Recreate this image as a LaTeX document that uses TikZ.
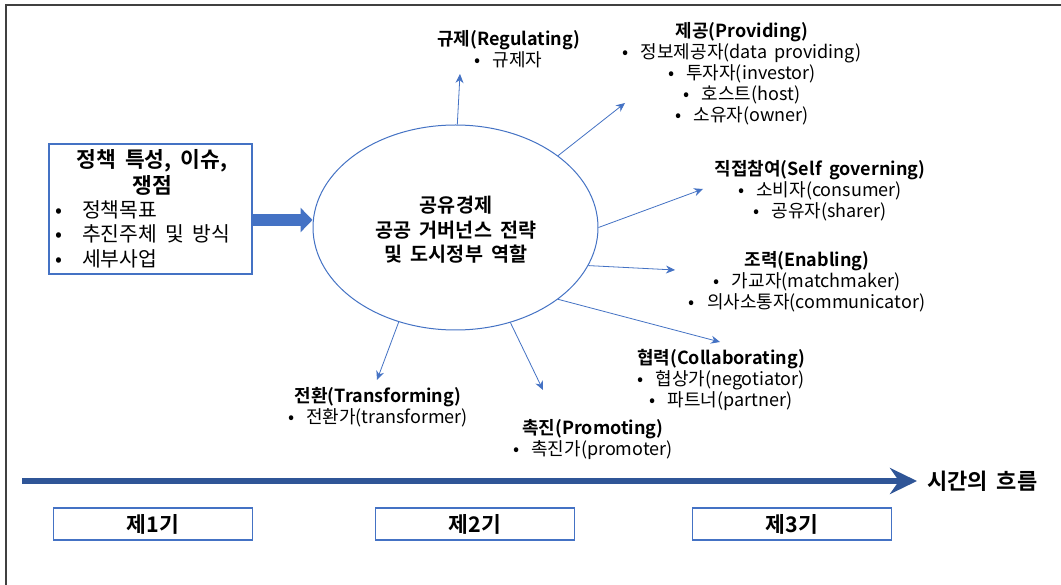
\documentclass[tikz,border=0pt]{standalone}
\usepackage{fontspec}
\setmainfont{Noto Sans CJK KR}[BoldFont={Noto Sans CJK KR Bold},WordSpace=1.8]
\usetikzlibrary{arrows.meta,shapes.geometric}
\definecolor{ob}{RGB}{68,114,196}
\definecolor{tl}{RGB}{47,85,151}
\definecolor{fr}{RGB}{64,64,64}
\begin{document}
\begin{tikzpicture}[x=1pt,y=-1pt,
  grp/.style={align=center,inner sep=0pt,font=\fontsize{18}{21}\selectfont},
  conn/.style={draw=ob,line width=0.8pt,-{Stealth[length=9pt,width=8pt]}},
  period/.style={draw=ob,line width=1.1pt,minimum width=199pt,minimum height=32pt,inner sep=0pt,font=\fontsize{21.5}{22}\selectfont\bfseries}]
\useasboundingbox (0,0) rectangle (1061,585);
\fill[white] (0,0) rectangle (1061,585);
% frame
\draw[fr,line width=2.5pt] (6,585) -- (6,5) -- (1061,5);

% left box
\node[draw=ob,line width=1.1pt,minimum width=203pt,minimum height=130pt,inner sep=0pt] (L) at (150.5,209) {};
\node[align=center,inner sep=0pt,font=\fontsize{21.5}{26}\selectfont\bfseries] (LT) at (152,172) {정책 특성, 이슈,\\쟁점};
\node[align=left,anchor=west,inner sep=0pt,font=\fontsize{20.4}{24.5}\selectfont] (LB) at (55,234)
  {\makebox[27pt][l]{•}정책목표\\\makebox[27pt][l]{•}추진주체 및 방식\\\makebox[27pt][l]{•}세부사업};

% ellipse
\node[draw=ob,line width=1pt,ellipse,minimum width=285pt,minimum height=205pt,inner sep=0pt] (E) at (455.5,227.5) {};
\node[align=center,inner sep=0pt,font=\fontsize{19.6}{24.5}\selectfont\bfseries] (ET) at (456,230)
  {공유경제\\공공 거버넌스 전략\\및 도시정부 역할};

% big arrow
\coordinate (ya) at (0,220);
\draw[ob,line width=12pt,-{Triangle[length=12pt,width=24pt]}] (L.east |- ya) -- (E.west |- ya);

% groups
\node[grp] (R) at (508.5,49) {\textbf{규제(Regulating)}\\•\hspace{12pt}규제자};
\node[grp] (P) at (742,73.5) {\textbf{제공(Providing)}\\•\hspace{12pt}정보제공자(data providing)\\•\hspace{12pt}투자자(investor)\\•\hspace{12pt}호스트(host)\\•\hspace{12pt}소유자(owner)};
\node[grp] (S) at (820,190.5) {\textbf{직접참여(Self governing)}\\•\hspace{12pt}소비자(consumer)\\•\hspace{12pt}공유자(sharer)};
\node[grp] (N) at (807,281.5) {\textbf{조력(Enabling)}\\•\hspace{12pt}가교자(matchmaker)\\•\hspace{12pt}의사소통자(communicator)};
\node[grp] (C) at (721,379.5) {\textbf{협력(Collaborating)}\\•\hspace{12pt}협상가(negotiator)\\•\hspace{12pt}파트너(partner)};
\node[grp] (M) at (593,439.5) {\textbf{촉진(Promoting)}\\•\hspace{12pt}촉진가(promoter)};
\node[grp] (T) at (378,407.5) {\textbf{전환(Transforming)}\\•\hspace{12pt}전환가(transformer)};

% connectors
\coordinate (c1) at (460,74);
\coordinate (c2) at (625,103);
\coordinate (c3) at (703,189);
\coordinate (c4) at (675,270);
\coordinate (c5) at (720,342);
\coordinate (c6) at (543,390);
\coordinate (c7) at (377,380);
\draw[conn] (E.89.2) -- (c1);
\draw[conn] (E.35.6) -- (c2);
\draw[conn] (E.0.2) -- (c3);
\draw[conn] (E.-16.4) -- (c4);
\draw[conn] (E.-35.6) -- (c5);
\draw[conn] (E.-60.7) -- (c6);
\draw[conn] (E.-121) -- (c7);

% timeline
\node[anchor=west,inner sep=0pt,font=\fontsize{22}{22}\selectfont\bfseries] (TL) at (927,481) {시간의 흐름};
\coordinate (t0) at (22,481);
\draw[tl,line width=6pt,-{Stealth[length=27pt,width=26pt,inset=9pt]}] (t0) -- ([xshift=-10pt]TL.west);

% periods
\node[period] (P1) at (153,524) {제1기};
\node[period] (P2) at (475,524) {제2기};
\node[period] (P3) at (792,524) {제3기};
\end{tikzpicture}
\end{document}
